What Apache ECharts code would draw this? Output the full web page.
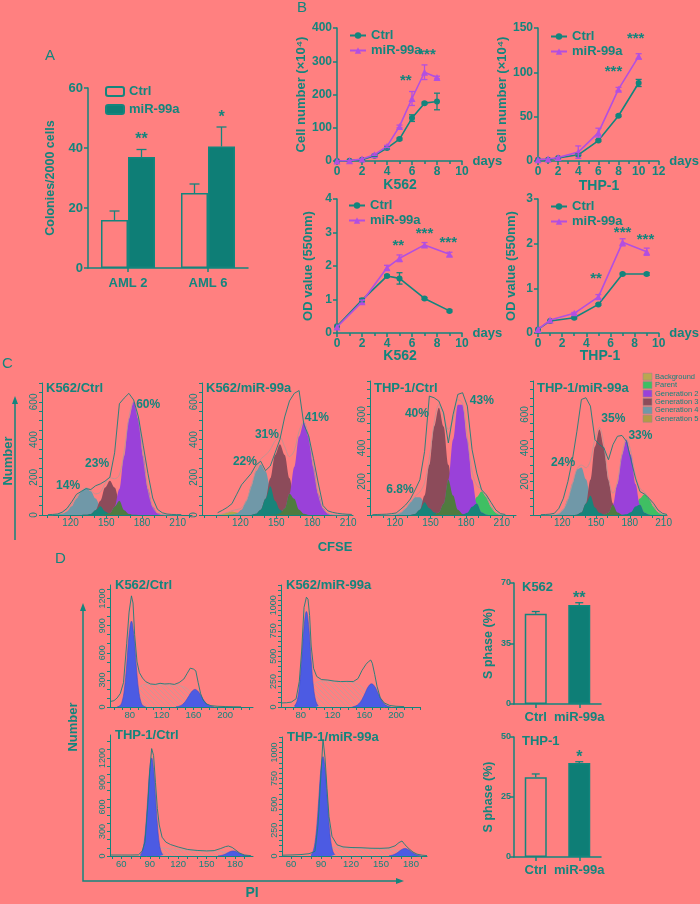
<!DOCTYPE html>
<html><head><meta charset="utf-8">
<script src="https://cdn.jsdelivr.net/npm/echarts/dist/echarts.min.js"></script>
<style>html,body{margin:0;padding:0;background:#FF8080;}#c{width:700px;height:904px;}</style>
</head><body><div id="c"></div>
<script>
// ---------------- DATA ----------------
// Panel A
const A_categories = ['AML 2', 'AML 6'];
const A_ctrl = [16, 25];
const A_ctrl_err = [3, 3];
const A_mir = [37, 40.5];
const A_mir_err = [2.5, 6.5];
const A_stars = [[0, 43.8, '**'], [1, 51.3, '*']];

// Panel B
const B1_days = [0, 1, 2, 3, 4, 5, 6, 7, 8];
const B1_ctrl = [0, 1, 4, 16, 39, 66, 129, 174, 179];
const B1_ctrl_err = [0, 0, 0, 2, 3, 3, 10, 3, 25];
const B1_mir = [0, 1, 6, 19, 44, 104, 188, 267, 251];
const B1_mir_err = [0, 0, 0, 2, 3, 4, 21, 22, 4];
const B1_stars = [[5.5, 250, '**'], [7.2, 329, '***']];

const B2_days = [0, 1, 2, 4, 6, 8, 10];
const B2_ctrl = [1.5, 1.5, 3.4, 7, 23, 51, 88];
const B2_ctrl_err = [0, 0, 0, 1, 1, 1, 4];
const B2_mir = [1.5, 2.3, 4, 10, 32, 81, 118];
const B2_mir_err = [0, 0, 0, 7, 5, 2, 3];
const B2_stars = [[7.5, 104, '***'], [9.7, 141, '***']];

const B3_days = [0, 2, 4, 5, 7, 9];
const B3_ctrl = [0.2, 0.98, 1.7, 1.63, 1.03, 0.66];
const B3_ctrl_err = [0, 0.05, 0.03, 0.17, 0.03, 0.03];
const B3_mir = [0.18, 0.93, 1.95, 2.23, 2.63, 2.35];
const B3_mir_err = [0, 0.05, 0.07, 0.1, 0.07, 0.06];
const B3_stars = [[4.9, 2.7, '**'], [7.0, 3.05, '***'], [8.9, 2.78, '***']];

const B4_days = [0, 1, 3, 5, 7, 9];
const B4_ctrl = [0.08, 0.27, 0.34, 0.64, 1.32, 1.32];
const B4_ctrl_err = [0, 0, 0.02, 0.02, 0.02, 0.03];
const B4_mir = [0.08, 0.29, 0.44, 0.81, 2.03, 1.82];
const B4_mir_err = [0, 0, 0.02, 0.05, 0.08, 0.08];
const B4_stars = [[4.8, 1.28, '**'], [7.0, 2.32, '***'], [8.9, 2.16, '***']];

// Panel C (CFSE histograms), values on the channel grid C_bins
const C_bins = [101,105,109,113,117,121,125,129,133,137,141,145,149,153,157,161,165,169,173,177,181,185,189,193,197,201,205,209,213];
const C_xlabels = [120, 150, 180, 210];
const C_legend = ['Background', 'Parent', 'Generation 2', 'Generation 3', 'Generation 4', 'Generation 5'];

const C1_gen5   = [0,1,3,6,8,6,3,1,0,0,0,0,0,0,0,0,0,0,0,0,0,0,0,0,0,0,0,0,0];
const C1_parent = [0,0,1,2,4,3,1,0,0,0,0,0,0,0,0,0,0,0,0,0,0,0,0,0,0,0,0,0,0];
const C1_gen4   = [0,0,2,6,19,46,87,126,143,126,87,46,19,6,2,0,0,0,0,0,0,0,0,0,0,0,0,0,0];
const C1_gen3   = [0,0,0,0,0,0,0,0,1,5,25,75,146,182,146,75,25,5,1,0,0,0,0,0,0,0,0,0,0];
const C1_gen2   = [0,0,0,0,0,0,0,0,0,0,0,0,2,10,44,138,312,510,600,510,312,138,44,10,2,0,0,0,0];
const C1_raw    = [2,3,5,15,35,70,110,125,140,135,155,165,180,200,330,590,620,645,610,520,370,220,90,30,12,5,3,2,2];
const C1_pct    = [[117.9, 154, '14%'], [142.3, 271, '23%'], [185.2, 584, '60%']];

const C2_gen5   = [1,5,13,18,13,5,1,0,0,0,0,0,0,0,0,0,0,0,0,0,0,0,0,0,0,0,0,0,0];
const C2_parent = [0,0,0,3,8,5,1,0,0,0,0,0,0,0,0,0,0,0,0,0,0,0,0,0,0,0,0,0,0];
const C2_gen4   = [0,0,0,2,8,28,74,152,232,268,232,152,74,28,8,2,0,0,0,0,0,0,0,0,0,0,0,0,0];
const C2_gen3   = [0,0,0,0,0,0,0,0,6,28,86,195,318,375,318,195,86,28,6,0,0,0,0,0,0,0,0,0,0];
const C2_gen2   = [0,0,0,0,0,0,0,0,0,0,0,0,1,8,36,113,255,416,490,416,255,113,36,8,1,0,0,0,0];
const C2_raw    = [12,25,40,60,110,160,190,220,265,285,235,260,330,400,520,605,645,660,480,420,300,170,50,22,14,9,6,4,3];
const C2_pct    = [[123.8, 281, '22%'], [142.2, 425, '31%'], [183.8, 515, '41%']];

const C3_gen5   = [0,0,0,0,0,0,0,0,0,0,0,0,0,0,0,0,0,0,0,0,0,0,0,0,0,0,0,0,0];
const C3_parent = [0,0,0,0,0,0,0,0,0,0,0,0,0,0,0,0,0,0,0,2,13,49,108,140,108,49,13,2,0];
const C3_gen4   = [0,0,0,0,0,4,15,40,76,106,106,76,40,15,4,1,0,0,0,0,0,0,0,0,0,0,0,0,0];
const C3_gen3   = [0,0,0,0,0,0,0,0,0,6,31,117,300,529,640,529,300,117,31,6,0,0,0,0,0,0,0,0,0];
const C3_gen2   = [0,0,0,0,0,0,0,0,0,0,0,0,0,2,15,68,211,451,658,658,451,211,68,15,2,0,0,0,0];
const C3_raw    = [2,3,4,5,8,12,35,60,95,150,210,380,710,700,680,610,430,600,720,730,650,390,250,150,120,75,30,8,3];
const C3_pct    = [[124.2, 149, '6.8%'], [138.5, 607, '40%'], [193.2, 685, '43%']];

const C4_gen5   = [0,0,0,0,0,0,0,0,0,0,0,0,0,0,0,0,0,0,0,0,0,0,0,0,0,0,0,0,0];
const C4_parent = [0,0,0,0,0,0,0,0,0,0,0,0,0,0,0,0,0,0,0,4,17,51,99,124,99,51,17,4,0];
const C4_gen4   = [0,0,0,2,9,34,94,188,272,283,213,115,45,13,3,0,0,0,0,0,0,0,0,0,0,0,0,0,0];
const C4_gen3   = [0,0,0,0,0,0,0,0,2,15,69,210,408,510,408,210,69,15,2,0,0,0,0,0,0,0,0,0,0];
const C4_gen2   = [0,0,0,0,0,0,0,0,0,0,0,0,0,0,2,13,61,185,360,450,360,185,61,13,2,0,0,0,0];
const C4_raw    = [2,3,5,10,40,100,200,330,500,690,700,650,450,420,400,330,420,470,475,440,330,220,140,125,100,70,30,10,3];
const C4_pct    = [[120.7, 315, '24%'], [165.3, 577, '35%'], [189.4, 476, '33%']];

// Panel D (PI histograms) [channel, count]
const D1_G1 = [[64,2],[67,10],[70,53],[73,188],[76,462],[79,794],[82,950],[85,794],[88,462],[91,188],[94,53],[97,10],[100,2]];
const D1_G2 = [[138,2],[142,9],[146,26],[150,63],[154,118],[158,172],[162,195],[166,172],[170,118],[174,63],[178,26],[182,9],[186,2]];
const D1_S  = [[70,0],[78,40],[86,150],[94,235],[100,250],[120,245],[140,240],[150,215],[158,160],[166,80],[174,25],[182,0]];
const D1_raw = [[55,60],[60,70],[64,100],[68,150],[72,270],[76,700],[79,1050],[82,1230],[84,1150],[86,800],[89,500],[92,380],[96,320],[100,280],[106,255],[112,250],[118,262],[124,255],[130,258],[136,250],[142,270],[148,310],[152,370],[156,430],[158,440],[160,420],[163,400],[166,270],[169,150],[172,80],[176,35],[182,15],[190,8],[200,5],[210,3],[220,2]];

const D2_G1 = [[72,10],[75,53],[78,186],[81,457],[84,785],[87,940],[90,785],[93,457],[96,186],[99,53],[102,10]];
const D2_G2 = [[145,2],[149,10],[153,31],[157,74],[161,138],[165,201],[169,228],[173,201],[177,138],[181,74],[185,31],[189,10],[193,2]];
const D2_S  = [[75,0],[84,60],[92,180],[100,245],[110,255],[130,250],[145,245],[155,210],[163,140],[171,60],[180,10],[186,0]];
const D2_raw = [[56,40],[62,42],[68,48],[74,80],[78,250],[81,550],[84,980],[87,1080],[89,1060],[91,900],[93,600],[96,380],[100,300],[106,270],[114,265],[122,255],[130,250],[138,252],[146,250],[152,280],[157,360],[162,420],[165,445],[168,462],[170,430],[173,320],[176,200],[180,90],[185,40],[192,15],[200,7],[210,4]];

const D3_G1 = [[80,13],[82,53],[84,162],[86,390],[88,728],[90,1059],[92,1200],[94,1059],[96,728],[98,390],[100,162],[102,53],[104,13]];
const D3_G2 = [[162,2],[166,8],[170,25],[174,50],[178,62],[182,50],[186,25],[190,8],[194,2]];
const D3_S  = [[86,0],[96,60],[102,100],[110,90],[125,75],[140,65],[155,60],[165,55],[172,40],[180,15],[188,0]];
const D3_raw = [[49,12],[60,12],[70,12],[78,14],[82,60],[85,175],[88,650],[90,1050],[92,1314],[94,1230],[96,900],[98,580],[100,380],[103,230],[107,170],[112,140],[120,110],[130,80],[140,68],[150,62],[158,66],[165,92],[170,115],[173,122],[177,105],[181,70],[185,35],[190,12],[197,4]];

const D4_G1 = [[80,11],[82,42],[84,130],[86,312],[88,582],[90,847],[92,960],[94,847],[96,582],[98,312],[100,130],[102,42],[104,11]];
const D4_G2 = [[158,2],[162,10],[166,29],[170,58],[174,72],[178,58],[182,29],[186,10],[190,2]];
const D4_S  = [[86,0],[96,50],[102,85],[110,80],[130,75],[150,70],[160,65],[168,50],[176,25],[184,5],[190,0]];
const D4_raw = [[52,8],[60,10],[70,14],[78,22],[84,45],[87,300],[90,800],[92,1128],[94,950],[96,650],[98,380],[101,190],[106,108],[112,88],[120,82],[130,80],[140,75],[150,74],[158,78],[164,98],[168,130],[171,145],[174,108],[178,70],[182,38],[186,18],[191,8],[196,4]];

const D1_xlabels = [80, 120, 160, 200];
const D3_xlabels = [60, 90, 120, 150, 180];
const D1_ylabels = [0, 300, 600, 900, 1200];
const D2_ylabels = [0, 250, 500, 750, 1000];
const D3_ylabels = [0, 300, 600, 900, 1200];
const D4_ylabels = [0, 250, 500, 750, 1000];

// S-phase bars
const S_categories = ['Ctrl', 'miR-99a'];
const S_k562 = [52.2, 57.3];
const S_k562_err = [1.3, 1.3];
const S_k562_stars = [[1, 63, '**']];
const S_thp1 = [33.2, 39.2];
const S_thp1_err = [1.4, 0.5];
const S_thp1_stars = [[1, 42.5, '*']];

// ---------------- STYLE / BUILD ----------------
const T = '#13857D', TF = '#0E7E76', P = '#B24FE0', BG = '#FF8080';
const FF = '"Liberation Sans", Arial, sans-serif';
const COL = {gen5:'#B8A24A', parent:'#3FBF63', gen2:'#9A41D9', gen3:'#8C4B5A', gen4:'#7098A8', ovTeal:'#17847A', ovGreen:'#4F7B3F', blue:'#4C5BE3', fit:'#BC9494'};
const plain = v => String(v);

function range(a,b,s){const r=[];for(let v=a;v<=b+1e-9;v+=s)r.push(v);return r;}
function merge(t,s){for(const k in s){const v=s[k];if(v&&typeof v==='object'&&!Array.isArray(v)&&t[k]&&typeof t[k]==='object'&&!Array.isArray(t[k]))merge(t[k],v);else t[k]=v;}return t;}
function baseAxis(o, small){
  return merge({
    axisLine:{show:true,onZero:false,lineStyle:{color:T,width:small?1:1.5}},
    axisTick:{show:true,length:small?3:4,lineStyle:{color:T,width:small?1:1.5}},
    axisLabel:{color:T,fontFamily:FF,fontWeight:small?'normal':'bold',fontSize:small?10:12,margin:small?3:5,formatter:plain,interval:0},
    splitLine:{show:false},
    nameTextStyle:{color:T,fontFamily:FF,fontWeight:'bold',fontSize:13}
  }, o);
}
const grids=[], xAxes=[], yAxes=[], series=[], legends=[], graphics=[];
function addGrid(g, xa, ya){grids.push(g);const gi=grids.length-1;xa.gridIndex=gi;ya.gridIndex=gi;xAxes.push(xa);yAxes.push(ya);return gi;}

function errBar(capW, offset, both){
  return function(params, api){
    const x=api.value(0), lo=api.value(1), hi=api.value(2);
    const a=api.coord([x,lo]), b=api.coord([x,hi]);
    const ox=offset||0;
    const st={stroke:api.visual('color'),lineWidth:1.3,fill:null};
    const ch=[{type:'line',shape:{x1:a[0]+ox,y1:a[1],x2:b[0]+ox,y2:b[1]},style:st},
              {type:'line',shape:{x1:b[0]+ox-capW/2,y1:b[1],x2:b[0]+ox+capW/2,y2:b[1]},style:st}];
    if(both) ch.push({type:'line',shape:{x1:a[0]+ox-capW/2,y1:a[1],x2:a[0]+ox+capW/2,y2:a[1]},style:st});
    return {type:'group',children:ch};
  };
}
function textSeries(gi, arr, font, dx, dy){
  series.push({type:'custom', xAxisIndex:gi, yAxisIndex:gi, silent:true, clip:false, z:20,
    data: arr.map(a=>[a[0],a[1]]),
    renderItem:(params, api)=>{
      const p=api.coord([api.value(0),api.value(1)]);
      const s=arr[params.dataIndex][2];
      return {type:'text', x:p[0]+(dx||0), y:p[1]+(dy||0),
        style:{text:s, fill:T, font:font, textAlign:'center', textVerticalAlign:'middle', align:'center', verticalAlign:'middle'}};
    }});
}
function gText(x,y,text,font,opt){
  opt=opt||{};
  graphics.push({type:'text', x:x, y:y, rotation:opt.rot||0, silent:true,
    style:{text:text, fill:opt.fill||T, font:font, textAlign:opt.align||'left', textVerticalAlign:opt.va||'middle', align:opt.align||'left', verticalAlign:opt.va||'middle'}});
}

// ---- Panel A ----
(function(){
  const gi = addGrid({left:88,top:88,width:160,height:180},
    baseAxis({type:'category', data:A_categories, axisTick:{alignWithLabel:true}, axisLabel:{fontSize:13, margin:9}}),
    baseAxis({type:'value', min:0, max:60, interval:20, name:'Colonies/2000 cells', nameLocation:'middle', nameGap:31, nameTextStyle:{fontSize:12.5}, axisLabel:{fontSize:13}}));
  series.push({type:'bar', name:'A-Ctrl', xAxisIndex:gi, yAxisIndex:gi, data:A_ctrl, barWidth:27, barGap:'0%',
    itemStyle:{color:'rgba(255,128,128,0)', borderColor:T, borderWidth:1.5}, z:2});
  series.push({type:'bar', name:'A-miR-99a', xAxisIndex:gi, yAxisIndex:gi, data:A_mir, barWidth:27, barGap:'0%',
    itemStyle:{color:TF, borderColor:T, borderWidth:1.5}, z:2});
  series.push({type:'custom', xAxisIndex:gi, yAxisIndex:gi, itemStyle:{color:T}, z:3, silent:true,
    data:A_ctrl.map((v,i)=>[i,v,v+A_ctrl_err[i]]), renderItem:errBar(10,-13.5,false)});
  series.push({type:'custom', xAxisIndex:gi, yAxisIndex:gi, itemStyle:{color:T}, z:3, silent:true,
    data:A_mir.map((v,i)=>[i,v,v+A_mir_err[i]]), renderItem:errBar(10,13.5,false)});
  textSeries(gi, A_stars, 'bold 16px '+FF, 13.5, 3);
  legends.push({left:100, top:80, orient:'vertical', itemWidth:18, itemHeight:9, itemGap:5, selectedMode:false,
    data:['A-Ctrl','A-miR-99a'], formatter:n=>n.replace('A-',''),
    textStyle:{color:T, fontFamily:FF, fontWeight:'bold', fontSize:13}});
})();

// ---- Panel B ----
function bPanel(g, xmax, ymax, yint, yname, ygap, days, ctrl, cerr, mir, merr, stars, legPos){
  const gi = addGrid(g,
    baseAxis({type:'value', min:0, max:xmax, interval:2, name:'days', nameLocation:'end', nameGap:9,
      minorTick:{show:true, splitNumber:2, length:3, lineStyle:{color:T,width:1.5}}, axisLabel:{fontSize:12}}),
    baseAxis({type:'value', min:0, max:ymax, interval:yint, name:yname, nameLocation:'middle', nameGap:ygap, axisLabel:{fontSize:12}}));
  series.push({type:'line', name:'Ctrl', xAxisIndex:gi, yAxisIndex:gi, data:days.map((d,i)=>[d,ctrl[i]]),
    symbol:'circle', symbolSize:6, itemStyle:{color:T}, lineStyle:{color:T,width:1.6}, z:3});
  series.push({type:'line', name:'miR-99a', xAxisIndex:gi, yAxisIndex:gi, data:days.map((d,i)=>[d,mir[i]]),
    symbol:'triangle', symbolSize:7, itemStyle:{color:P}, lineStyle:{color:P,width:1.6}, z:4});
  const ce=[], me=[];
  days.forEach((d,i)=>{ if(cerr[i]>0) ce.push([d,ctrl[i]-cerr[i],ctrl[i]+cerr[i]]); if(merr[i]>0) me.push([d,mir[i]-merr[i],mir[i]+merr[i]]); });
  series.push({type:'custom', xAxisIndex:gi, yAxisIndex:gi, itemStyle:{color:T}, z:5, silent:true, data:ce, renderItem:errBar(6,0,true)});
  series.push({type:'custom', xAxisIndex:gi, yAxisIndex:gi, itemStyle:{color:P}, z:6, silent:true, data:me, renderItem:errBar(6,0,true)});
  textSeries(gi, stars, 'bold 15px '+FF, 0, 3);
  legends.push({left:legPos[0], top:legPos[1], orient:'vertical', itemWidth:16, itemHeight:8, itemGap:2, selectedMode:false,
    data:['Ctrl','miR-99a'], textStyle:{color:T, fontFamily:FF, fontWeight:'bold', fontSize:13}});
}
bPanel({left:337,top:28,width:125,height:133}, 10, 400, 100, 'Cell number (×10⁴)', 28, B1_days, B1_ctrl, B1_ctrl_err, B1_mir, B1_mir_err, B1_stars, [344,24]);
bPanel({left:538,top:28,width:122,height:133}, 12, 150, 50, 'Cell number (×10⁴)', 26, B2_days, B2_ctrl, B2_ctrl_err, B2_mir, B2_mir_err, B2_stars, [545,25]);
bPanel({left:337,top:199,width:125,height:134}, 10, 4, 1, 'OD value (550nm)', 22, B3_days, B3_ctrl, B3_ctrl_err, B3_mir, B3_mir_err, B3_stars, [343,194]);
bPanel({left:538,top:199,width:125,height:134}, 10, 3, 1, 'OD value (550nm)', 20, B4_days, B4_ctrl, B4_ctrl_err, B4_mir, B4_mir_err, B4_stars, [545,195]);
gText(400,185,'K562','bold 14px '+FF,{align:'center'});
gText(599,186,'THP-1','bold 14px '+FF,{align:'center'});
gText(400,356,'K562','bold 14px '+FF,{align:'center'});
gText(600,356,'THP-1','bold 14px '+FF,{align:'center'});

// ---- Panel C ----
function cPanel(g, xmin, xmax, ymax, ylabels, gen5, parent, gen4, gen3, gen2, raw, pct, title){
  const gi = addGrid(g,
    baseAxis({type:'value', min:xmin, max:xmax, axisTick:{customValues:range(Math.ceil(xmin/10)*10, xmax, 10)}, axisLabel:{customValues:C_xlabels}}, true),
    baseAxis({type:'value', min:0, max:ymax, axisTick:{customValues:range(0, ymax, 50)}, axisLabel:{customValues:ylabels, rotate:90}}, true));
  const pair = arr => C_bins.map((x,i)=>[x,arr[i]]);
  const area = (arr,color,z) => ({type:'line', xAxisIndex:gi, yAxisIndex:gi, data:pair(arr), smooth:0.35, smoothMonotone:'x', symbol:'none',
    lineStyle:{width:0}, areaStyle:{color:color, opacity:1}, z:z, silent:true});
  const mn = (a,b)=>a.map((v,i)=>Math.min(v,b[i]));
  series.push(area(gen5,COL.gen5,2), area(parent,COL.parent,2), area(gen4,COL.gen4,2), area(gen3,COL.gen3,2), area(gen2,COL.gen2,2));
  series.push(area(mn(gen4,gen3),COL.ovTeal,3), area(mn(gen3,gen2),COL.ovGreen,3), area(mn(gen2,parent),COL.ovTeal,3));
  const fit = C_bins.map((x,i)=>[x, gen5[i]+parent[i]+gen4[i]+gen3[i]+gen2[i]]);
  series.push({type:'line', xAxisIndex:gi, yAxisIndex:gi, data:fit, smooth:0.35, symbol:'none', lineStyle:{color:COL.fit,width:0.9}, z:4, silent:true});
  series.push({type:'line', xAxisIndex:gi, yAxisIndex:gi, data:pair(raw), symbol:'none', lineStyle:{color:'#1A7F79',width:0.9}, z:5, silent:true});
  textSeries(gi, pct, 'bold 12px '+FF, 0, 0);
  gText(g.left+4, 388, title, 'bold 13px '+FF);
}
cPanel({left:42,top:383,width:150,height:132}, 96, 222, 700, [0,200,400,600], C1_gen5, C1_parent, C1_gen4, C1_gen3, C1_gen2, C1_raw, C1_pct, 'K562/Ctrl');
cPanel({left:202,top:383,width:151,height:132}, 88, 214, 700, [0,200,400,600], C2_gen5, C2_parent, C2_gen4, C2_gen3, C2_gen2, C2_raw, C2_pct, 'K562/miR-99a');
cPanel({left:370,top:381,width:146,height:134}, 99, 222, 800, [200,400,600], C3_gen5, C3_parent, C3_gen4, C3_gen3, C3_gen2, C3_raw, C3_pct, 'THP-1/Ctrl');
cPanel({left:533,top:381,width:134,height:134}, 94, 213, 800, [200,400,600], C4_gen5, C4_parent, C4_gen4, C4_gen3, C4_gen2, C4_raw, C4_pct, 'THP-1/miR-99a');
// C legend
const C_legColors = ['#B9A750', COL.parent, COL.gen2, COL.gen3, COL.gen4, '#B39B45'];
C_legend.forEach((name,i)=>{
  const y = 376.7 + i*8.4;
  graphics.push({type:'rect', shape:{x:643,y:y-3.5,width:9,height:7}, style:{fill:C_legColors[i], stroke:'#9A8A8A', lineWidth:0.6}, silent:true});
  gText(655, y, name, '7.5px '+FF);
});
// C frame
graphics.push({type:'polyline', shape:{points:[[15,540],[15,402]]}, style:{stroke:T,lineWidth:1.5,fill:null}, silent:true});
graphics.push({type:'polygon', shape:{points:[[15,396],[12,404],[18,404]]}, style:{fill:T}, silent:true});
gText(8,461,'Number','bold 13px '+FF,{rot:Math.PI/2, align:'center'});
gText(335,547,'CFSE','bold 13px '+FF,{align:'center'});

// ---- Panel D ----
const hatch = document.createElement('canvas'); hatch.width=5; hatch.height=5;
(function(){const c=hatch.getContext('2d'); c.strokeStyle='#C29A9A'; c.lineWidth=0.8; c.beginPath(); c.moveTo(0,0); c.lineTo(5,5); c.moveTo(-1,4); c.lineTo(1,6); c.moveTo(4,-1); c.lineTo(6,1); c.stroke();})();
function dPanel(g, xmin, xmax, ymax, ytick, xlabels, ylabels, G1, G2, S, raw, title){
  const gi = addGrid(g,
    baseAxis({type:'value', min:xmin, max:xmax, axisTick:{customValues:range(Math.ceil(xmin/10)*10, xmax, 10)}, axisLabel:{customValues:xlabels, fontSize:9.5}}, true),
    baseAxis({type:'value', min:0, max:ymax, axisTick:{customValues:range(0, ymax, ytick)}, axisLabel:{customValues:ylabels, rotate:90, fontSize:9}}, true));
  series.push({type:'line', xAxisIndex:gi, yAxisIndex:gi, data:S, smooth:0.2, symbol:'none', lineStyle:{color:'#C49C9C',width:0.8},
    areaStyle:{color:{image:hatch, repeat:'repeat'}, opacity:1}, z:2, silent:true});
  series.push({type:'line', xAxisIndex:gi, yAxisIndex:gi, data:G1, smooth:0.4, symbol:'none', lineStyle:{color:'#3E4CC8',width:0.6},
    areaStyle:{color:COL.blue, opacity:1}, z:3, silent:true});
  series.push({type:'line', xAxisIndex:gi, yAxisIndex:gi, data:G2, smooth:0.4, symbol:'none', lineStyle:{color:'#3E4CC8',width:0.6},
    areaStyle:{color:COL.blue, opacity:1}, z:3, silent:true});
  series.push({type:'line', xAxisIndex:gi, yAxisIndex:gi, data:raw, symbol:'none', lineStyle:{color:'#1A7F79',width:0.9}, z:5, silent:true});
  gText(g.left+5, g.top, title, 'bold 13px '+FF);
}
dPanel({left:110,top:585,width:143,height:122}, 55, 235, 1350, 100, D1_xlabels, D1_ylabels, D1_G1, D1_G2, D1_S, D1_raw, 'K562/Ctrl');
dPanel({left:281,top:585,width:139,height:122}, 55, 230, 1200, 50, D1_xlabels, D2_ylabels, D2_G1, D2_G2, D2_S, D2_raw, 'K562/miR-99a');
dPanel({left:110,top:735,width:143,height:121}, 48, 199, 1480, 100, D3_xlabels, D3_ylabels, D3_G1, D3_G2, D3_S, D3_raw, 'THP-1/Ctrl');
dPanel({left:282,top:737,width:145,height:119}, 51, 196, 1150, 50, D3_xlabels, D4_ylabels, D4_G1, D4_G2, D4_S, D4_raw, 'THP-1/miR-99a');
// D frame
graphics.push({type:'polyline', shape:{points:[[83,609],[83,881],[397,881]]}, style:{stroke:T,lineWidth:1.5,fill:null}, silent:true});
graphics.push({type:'polygon', shape:{points:[[83,603],[80,611],[86,611]]}, style:{fill:T}, silent:true});
graphics.push({type:'polygon', shape:{points:[[404,881],[396,878],[396,884]]}, style:{fill:T}, silent:true});
gText(73,727,'Number','bold 13px '+FF,{rot:Math.PI/2, align:'center'});
gText(252,893,'PI','bold 14px '+FF,{align:'center'});

// S-phase bars
function sPanel(g, ymax, yint, vals, errs, stars, title){
  const gi = addGrid(g,
    baseAxis({type:'category', data:S_categories, axisTick:{alignWithLabel:true}, axisLabel:{fontSize:13, margin:7, interval:0}}),
    baseAxis({type:'value', min:0, max:ymax, interval:yint, name:'S phase (%)', nameLocation:'middle', nameGap:19, nameTextStyle:{fontSize:12.5}, axisLabel:{fontSize:9, margin:3}}));
  series.push({type:'bar', xAxisIndex:gi, yAxisIndex:gi, barWidth:22,
    data:vals.map((v,i)=>({value:v, itemStyle:{color: i===0 ? 'rgba(255,128,128,0)' : TF, borderColor:T, borderWidth:1.5}})), z:2});
  series.push({type:'custom', xAxisIndex:gi, yAxisIndex:gi, itemStyle:{color:T}, z:3, silent:true,
    data:vals.map((v,i)=>[i,v,v+errs[i]]), renderItem:errBar(8,0,false)});
  textSeries(gi, stars, 'bold 16px '+FF, 0, 3);
  gText(g.left+8, g.top+4, title, 'bold 13px '+FF);
}
sPanel({left:514,top:583,width:87,height:121}, 70, 35, S_k562, S_k562_err, S_k562_stars, 'K562');
sPanel({left:514,top:737,width:87,height:120}, 50, 25, S_thp1, S_thp1_err, S_thp1_stars, 'THP-1');

// Panel letters
gText(45,56,'A','15px '+FF);
gText(297,8,'B','15px '+FF);
gText(2,364,'C','15px '+FF);
gText(55,559,'D','15px '+FF);

const chart = echarts.init(document.getElementById('c'), null, {renderer:'canvas'});
chart.setOption({
  animation:false, backgroundColor:BG, textStyle:{fontFamily:FF},
  grid:grids, xAxis:xAxes, yAxis:yAxes, legend:legends, series:series,
  graphic:{elements:graphics}
});
</script></body></html>
